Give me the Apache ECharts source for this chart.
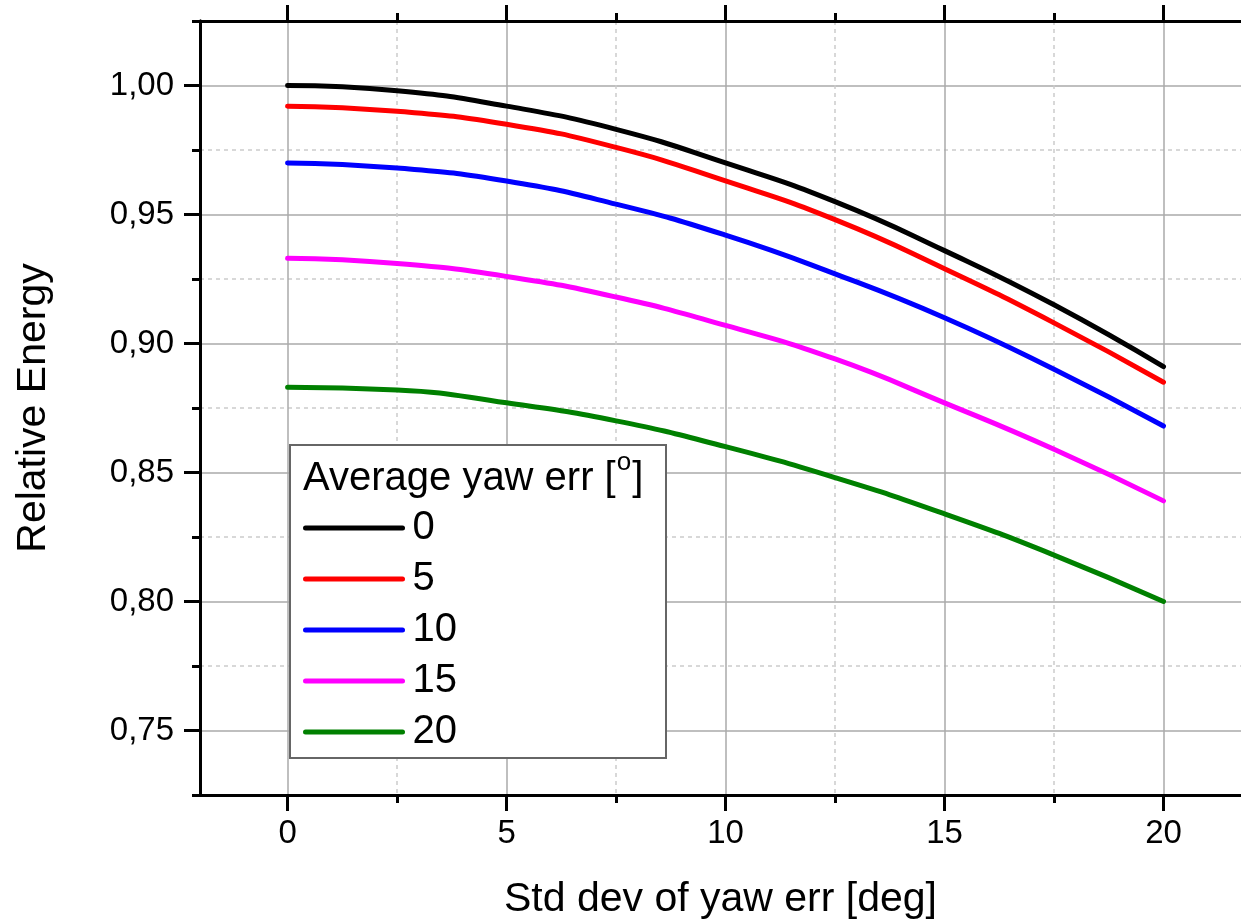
<!DOCTYPE html>
<html>
<head>
<meta charset="utf-8">
<script src="https://cdn.jsdelivr.net/npm/echarts@6/dist/echarts.min.js"></script>
<style>
html, body { margin: 0; padding: 0; background: #fff; }
#chart { width: 1241px; height: 923px; }
</style>
</head>
<body>
<div id="chart"></div>
<script>
// x = std dev of yaw error [deg]
var stdDev = [0, 2.5, 5, 7.5, 10, 12.5, 15, 17.5, 20];
// one curve per average yaw error
var yawAvg = ['0', '5', '10', '15', '20'];
var energy0  = [1.000, 0.998, 0.992, 0.983, 0.970, 0.955, 0.936, 0.915, 0.891];
var energy5  = [0.992, 0.990, 0.985, 0.976, 0.963, 0.948, 0.929, 0.908, 0.885];
var energy10 = [0.970, 0.968, 0.963, 0.954, 0.942, 0.927, 0.910, 0.890, 0.868];
var energy15 = [0.933, 0.931, 0.926, 0.918, 0.907, 0.894, 0.877, 0.859, 0.839];
var energy20 = [0.883, 0.882, 0.877, 0.870, 0.860, 0.848, 0.834, 0.818, 0.800];
var colors = ['#000000', '#ff0000', '#0000ff', '#ff00ff', '#008000'];

// tick positions
var xMajorTicks = [0, 5, 10, 15, 20];
var xMinorTicks = [2.5, 7.5, 12.5, 17.5];
var yMajorTicks = [0.75, 0.80, 0.85, 0.90, 0.95, 1.00];
var yMinorTicks = [0.725, 0.775, 0.825, 0.875, 0.925, 0.975, 1.025];

var FONT = '"Liberation Sans", Arial, sans-serif';
var chart = echarts.init(document.getElementById('chart'));

function pairs(ys){
    var out = [];
    for(var i=0;i<stdDev.length;i++){
        out.push([stdDev[i], ys[i]]);
    }
    return out;
}

var allEnergy = [energy0, energy5, energy10, energy15, energy20];
var series = [];
for(var k=0;k<yawAvg.length;k++){
    series.push({
        name: yawAvg[k],
        type: 'line',
        smooth: true,
        symbol: 'none',
        showSymbol: false,
        xAxisIndex: 0,
        yAxisIndex: 0,
        z: 3,
        lineStyle: {color: colors[k], width: 5, cap: 'round'},
        itemStyle: {color: colors[k]},
        data: pairs(allEnergy[k])
    });
}

var blackLine = {onZero: false, lineStyle: {color: '#000', width: 3}};
function xAx(pos, ticks, len, major){
    return {
        type: 'value', position: pos, min: -2, max: 21.77,
        axisLine: blackLine,
        axisTick: {customValues: ticks, length: len, inside: false, lineStyle: {color: '#000', width: 3}},
        axisLabel: {show: major && pos == 'bottom', customValues: ticks, fontSize: 33, color: '#000',
                    fontFamily: FONT, margin: 22},
        splitLine: {show: pos == 'bottom',
                    lineStyle: major ? {color: '#aaaaaa', width: 1.5} : {color: '#cccccc', width: 1.5, type: [4, 4]}},
        name: (major && pos == 'bottom') ? 'Std dev of yaw err [deg]' : '',
        nameLocation: 'middle', nameGap: 84,
        nameTextStyle: {fontSize: 41, color: '#000', fontFamily: FONT}
    };
}
function yAx(ticks, len, major){
    return {
        type: 'value', position: 'left', min: 0.725, max: 1.025,
        axisLine: blackLine,
        axisTick: {customValues: ticks, length: len, inside: false, lineStyle: {color: '#000', width: 3}},
        axisLabel: {show: major, customValues: ticks, fontSize: 33, color: '#000', fontFamily: FONT, margin: 26,
                    formatter: function(v){ return v.toFixed(2).replace('.', ','); }},
        splitLine: {show: true,
                    lineStyle: major ? {color: '#aaaaaa', width: 1.5} : {color: '#cccccc', width: 1.5, type: [4, 4]}},
        name: major ? 'Relative Energy' : '',
        nameLocation: 'middle', nameGap: 146,
        nameTextStyle: {fontSize: 41, color: '#000', fontFamily: FONT}
    };
}

var option = {
    backgroundColor: '#fff',
    animation: false,
    grid: {left: 200, top: 21, right: 0, bottom: 128, containLabel: false, outerBoundsMode: 'none'},
    xAxis: [
        xAx('bottom', xMajorTicks, 16, true),
        xAx('bottom', xMinorTicks, 8, false),
        xAx('top', xMajorTicks, 16, true),
        xAx('top', xMinorTicks, 8, false)
    ],
    yAxis: [
        yAx(yMajorTicks, 16, true),
        yAx(yMinorTicks, 8, false)
    ],
    title: {
        text: 'Average yaw err [{s|o}]',
        left: 303, top: 457, padding: 0,
        textStyle: {
            fontSize: 40, fontWeight: 'normal', color: '#000', fontFamily: FONT, lineHeight: 44,
            rich: {s: {fontSize: 26, color: '#000', fontFamily: FONT, padding: [0, 1, 32, 1]}}
        },
        z: 12
    },
    legend: {
        orient: 'vertical',
        left: 303, top: 508,
        padding: 0,
        itemWidth: 97, itemHeight: 14, itemGap: 11,
        selectedMode: false,
        data: yawAvg,
        itemStyle: {opacity: 0},
        lineStyle: {width: 5, cap: 'round'},
        textStyle: {fontSize: 40, color: '#000', fontFamily: FONT, lineHeight: 40, padding: [0, 0, 0, 5]},
        z: 12
    },
    graphic: [{
        type: 'rect', left: 289, top: 444, z: 8,
        shape: {width: 376, height: 313},
        style: {fill: '#fff', stroke: '#666', lineWidth: 2}
    }],
    series: series
};
chart.setOption(option);
</script>
</body>
</html>
